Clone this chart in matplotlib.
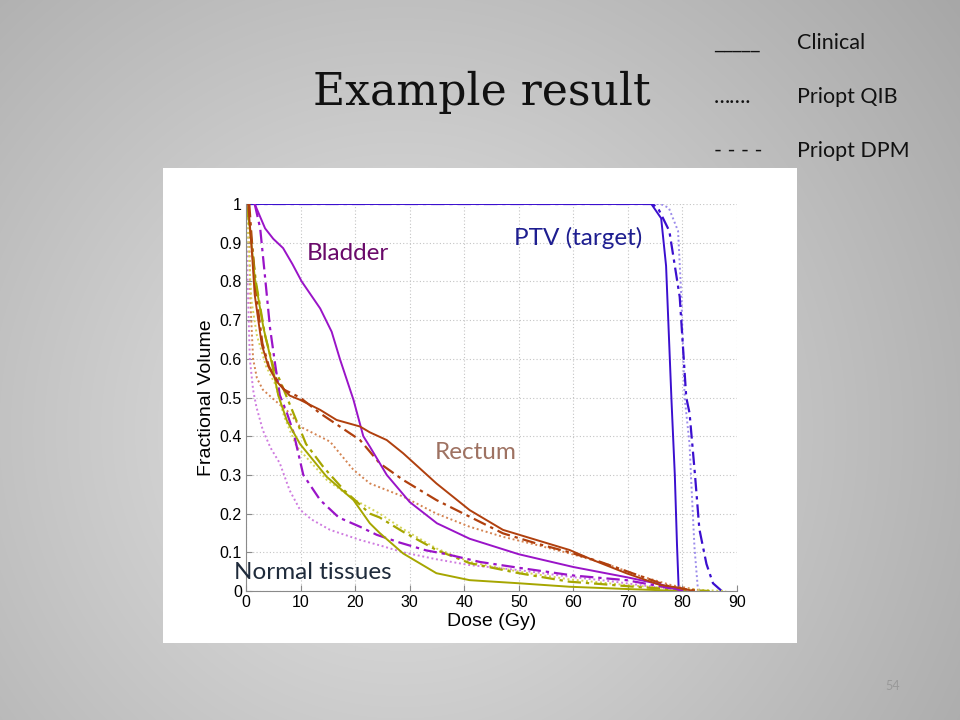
import numpy as np
import matplotlib
matplotlib.use("Agg")
import matplotlib.pyplot as plt
from matplotlib.patches import Rectangle

# DVH curves: dose (Gy) vs fractional volume
ptv_clin_x = [0, 74.3, 76.1, 77, 78, 78.6, 79.0, 79.3, 79.5]
ptv_clin_y = [1, 1, 0.963, 0.84, 0.49, 0.30, 0.12, 0.01, 0]
ptv_dpm_x = [0, 74.5, 75.5, 77.6, 79.5, 80.7, 81.3, 82.3, 83.1, 84.4, 85.6, 86.8, 87.2]
ptv_dpm_y = [1, 1, 0.99, 0.93, 0.76, 0.5, 0.46, 0.3, 0.16, 0.07, 0.02, 0.005, 0]
ptv_qib_x = [0, 76, 77.5, 79.2, 79.8, 80.4, 81.3, 81.6, 82.2, 82.8, 83.2]
ptv_qib_y = [1, 1, 0.99, 0.93, 0.76, 0.5, 0.38, 0.287, 0.114, 0.01, 0]

bladder_clin_x = [1.6, 2.5, 3.5, 5, 6.8, 8.5, 10.2, 13.6, 15.7, 17.2, 19.7, 21.5, 22.7, 25.8, 30, 35, 41, 50, 60, 70, 76, 79, 80]
bladder_clin_y = [1, 0.97, 0.937, 0.91, 0.886, 0.845, 0.80, 0.73, 0.67, 0.60, 0.494, 0.40, 0.373, 0.30, 0.23, 0.175, 0.135, 0.095, 0.062, 0.035, 0.017, 0.004, 0]
bladder_dpm_x = [1.6, 2.6, 3.5, 4.4, 5.3, 6.2, 7.5, 8.7, 10.5, 13.6, 17, 20.9, 24, 28.2, 33, 36.8, 42.9, 50, 60, 69.7, 76.4, 80]
bladder_dpm_y = [1, 0.937, 0.81, 0.68, 0.59, 0.506, 0.46, 0.41, 0.3, 0.235, 0.19, 0.166, 0.145, 0.125, 0.105, 0.095, 0.075, 0.06, 0.04, 0.028, 0.011, 0]
bladder_qib_x = [0, 0.3, 0.7, 1.3, 1.9, 3.1, 4.5, 6.2, 8, 9.9, 12, 15.4, 20.9, 24.5, 28.8, 34.9, 41, 50, 59.3, 67, 74, 79, 81]
bladder_qib_y = [1, 0.8, 0.6, 0.52, 0.476, 0.415, 0.37, 0.33, 0.26, 0.21, 0.185, 0.158, 0.132, 0.118, 0.1, 0.082, 0.067, 0.054, 0.037, 0.025, 0.012, 0.004, 0]

rectum_clin_x = [0.4, 1, 1.6, 2.9, 4.1, 5.7, 8, 9.9, 13.6, 16.6, 20.9, 22.7, 25.8, 28.8, 34.9, 41, 47.1, 53.2, 59.3, 63.6, 69.7, 75.8, 79.5, 82]
rectum_clin_y = [1, 0.894, 0.765, 0.636, 0.58, 0.54, 0.505, 0.494, 0.468, 0.442, 0.425, 0.41, 0.39, 0.356, 0.278, 0.209, 0.158, 0.132, 0.106, 0.08, 0.046, 0.016, 0.008, 0]
rectum_dpm_x = [0.6, 1.2, 2, 3, 4.2, 5.7, 7, 9.9, 13.6, 17.2, 20.9, 24.5, 28.8, 34.9, 41, 47.1, 53.2, 59.3, 65, 72, 78, 83]
rectum_dpm_y = [1, 0.88, 0.75, 0.64, 0.58, 0.545, 0.52, 0.5, 0.459, 0.425, 0.39, 0.33, 0.287, 0.235, 0.192, 0.149, 0.123, 0.1, 0.075, 0.04, 0.01, 0]
rectum_qib_x = [0.5, 0.8, 1.3, 2, 3.1, 5.5, 8, 9.9, 15.4, 19.7, 22.7, 28.8, 34.9, 41, 47.1, 53, 59.3, 66, 72, 78, 84]
rectum_qib_y = [1, 0.75, 0.6, 0.55, 0.52, 0.49, 0.46, 0.425, 0.386, 0.313, 0.278, 0.244, 0.2, 0.166, 0.14, 0.12, 0.097, 0.07, 0.04, 0.015, 0]

normal_clin_x = [0, 0.7, 1.6, 3.2, 4.7, 5.9, 7.5, 9.9, 14.8, 19.7, 22.7, 24.5, 28.8, 34.9, 41, 50, 59.3, 70, 80]
normal_clin_y = [1, 0.94, 0.81, 0.68, 0.59, 0.506, 0.44, 0.38, 0.295, 0.235, 0.175, 0.15, 0.097, 0.046, 0.028, 0.02, 0.011, 0.005, 0]
normal_dpm_x = [0, 0.8, 1.8, 3.5, 5, 6.2, 8.7, 11, 14.2, 18, 22.7, 24.5, 28.8, 34.9, 41, 50, 59.3, 65, 72, 80, 85]
normal_dpm_y = [1, 0.93, 0.8, 0.66, 0.58, 0.545, 0.459, 0.38, 0.32, 0.26, 0.2, 0.19, 0.153, 0.106, 0.072, 0.046, 0.024, 0.018, 0.01, 0.003, 0]
normal_qib_x = [0, 0.5, 1, 2, 3.7, 5.5, 7, 9.3, 14.8, 20, 24.5, 28.8, 34.9, 41, 50, 59.3, 70, 80, 88]
normal_qib_y = [1, 0.88, 0.75, 0.66, 0.58, 0.53, 0.45, 0.373, 0.287, 0.235, 0.2, 0.16, 0.11, 0.075, 0.05, 0.03, 0.015, 0.005, 0]

xticks = [0, 10, 20, 30, 40, 50, 60, 70, 80, 90]
yticks = [0, 0.1, 0.2, 0.3, 0.4, 0.5, 0.6, 0.7, 0.8, 0.9, 1]
ytick_labels = ["0", "0.1", "0.2", "0.3", "0.4", "0.5", "0.6", "0.7", "0.8", "0.9", "1"]

legend_marks = ["_____", "\u2026\u2026.", "- - - -"]
legend_names = ["Clinical", "Priopt QIB", "Priopt DPM"]

DASHDOT = (0, (6, 2.2, 1.5, 2.2))
DOTTED = (0, (1, 1.4))

fig = plt.figure(figsize=(9.6, 7.2), dpi=100)

# slide background: soft grey radial gradient
bg = fig.add_axes([0, 0, 1, 1], zorder=-10)
yy, xx = np.mgrid[0:720, 0:960]
r = np.sqrt((xx - 400.0) ** 2 + (yy - 430.0) ** 2) / 720.0
shade = np.clip(0.90 - 0.25 * r, 0.62, 0.92)
bg.imshow(np.dstack([shade] * 3), extent=[0, 960, 720, 0], aspect="auto")
bg.set_xlim(0, 960)
bg.set_ylim(720, 0)
bg.axis("off")

# white figure panel
bg.add_patch(Rectangle((163, 168), 634, 475, facecolor="white", edgecolor="none"))

fig.text(313 / 960, 1 - 92 / 720, "Example result", family="DejaVu Serif",
         fontsize=31.8, va="center", ha="left", color="#111111")
for i, (mk, nm) in enumerate(zip(legend_marks, legend_names)):
    yc = 1 - (43 + 54 * i) / 720
    mk_font = "DejaVu Sans" if i == 0 else "Lato"
    mk_size = 13 if i == 0 else 15.5
    fig.text(714 / 960, yc, mk, family=mk_font, fontsize=mk_size, va="center", color="#111111")
    fig.text(797 / 960, yc, nm, family="Lato", fontsize=15.5, va="center", color="#111111")
fig.text(893 / 960, 1 - 686 / 720, "54", family="Lato", fontsize=9, va="center",
         ha="center", color="#999999")

ax = fig.add_axes([246 / 960, 1 - 591 / 720, 491 / 960, 387 / 720])
ax.set_facecolor("white")

blue, blue_l = "#3B0FCF", "#9C8CEB"
purp, purp_l = "#9A14C8", "#CF7CE0"
brown, brown_l = "#B0400E", "#D48452"
olive, olive_l = "#A6A600", "#D4D45A"

lw = 1.4
ax.plot(ptv_qib_x, ptv_qib_y, color=blue_l, lw=lw, ls=DOTTED)
ax.plot(ptv_dpm_x, ptv_dpm_y, color=blue, lw=lw + 0.2, ls=DASHDOT)
ax.plot(ptv_clin_x, ptv_clin_y, color=blue, lw=lw)

ax.plot(bladder_qib_x, bladder_qib_y, color=purp_l, lw=lw, ls=DOTTED)
ax.plot(rectum_qib_x, rectum_qib_y, color=brown_l, lw=lw, ls=DOTTED)
ax.plot(normal_qib_x, normal_qib_y, color=olive_l, lw=lw, ls=DOTTED)

ax.plot(normal_dpm_x, normal_dpm_y, color=olive, lw=lw + 0.2, ls=DASHDOT)
ax.plot(bladder_dpm_x, bladder_dpm_y, color=purp, lw=lw + 0.2, ls=DASHDOT)
ax.plot(rectum_dpm_x, rectum_dpm_y, color=brown, lw=lw + 0.2, ls=DASHDOT)

ax.plot(normal_clin_x, normal_clin_y, color=olive, lw=lw)
ax.plot(bladder_clin_x, bladder_clin_y, color=purp, lw=lw)
ax.plot(rectum_clin_x, rectum_clin_y, color=brown, lw=lw)

ax.set_xlim(0, 90)
ax.set_ylim(0, 1)
ax.set_xticks(xticks)
ax.set_yticks(yticks)
ax.set_yticklabels(ytick_labels)
ax.grid(True, color="#C4C4C4", ls=(0, (1, 2)), lw=0.8)
ax.set_axisbelow(True)
for side in ["top", "right"]:
    ax.spines[side].set_visible(False)
for side in ["left", "bottom"]:
    ax.spines[side].set_color("#8A8A8A")
ax.tick_params(direction="in", length=4, color="#8A8A8A", labelsize=11.5, pad=3)
for lab in ax.get_xticklabels() + ax.get_yticklabels():
    lab.set_family("Liberation Sans")
ax.set_xlabel("Dose (Gy)", family="Liberation Sans", fontsize=14, labelpad=2)
ax.set_ylabel("Fractional Volume", family="Liberation Sans", fontsize=14, labelpad=3)

ax.text(11.2, 0.871, "Bladder", family="Lato", fontsize=17.5, color="#6A0A6A", va="center")
ax.text(49.1, 0.912, "PTV (target)", family="Lato", fontsize=17.5, color="#1E1E90", va="center")
ax.text(34.6, 0.357, "Rectum", family="Lato", fontsize=17.5, color="#9E7262", va="center")
ax.text(-2.2, 0.047, "Normal tissues", family="Lato", fontsize=17.5, color="#1F2B3B",
        va="center", clip_on=False)

fig.savefig("out.png", dpi=100)
